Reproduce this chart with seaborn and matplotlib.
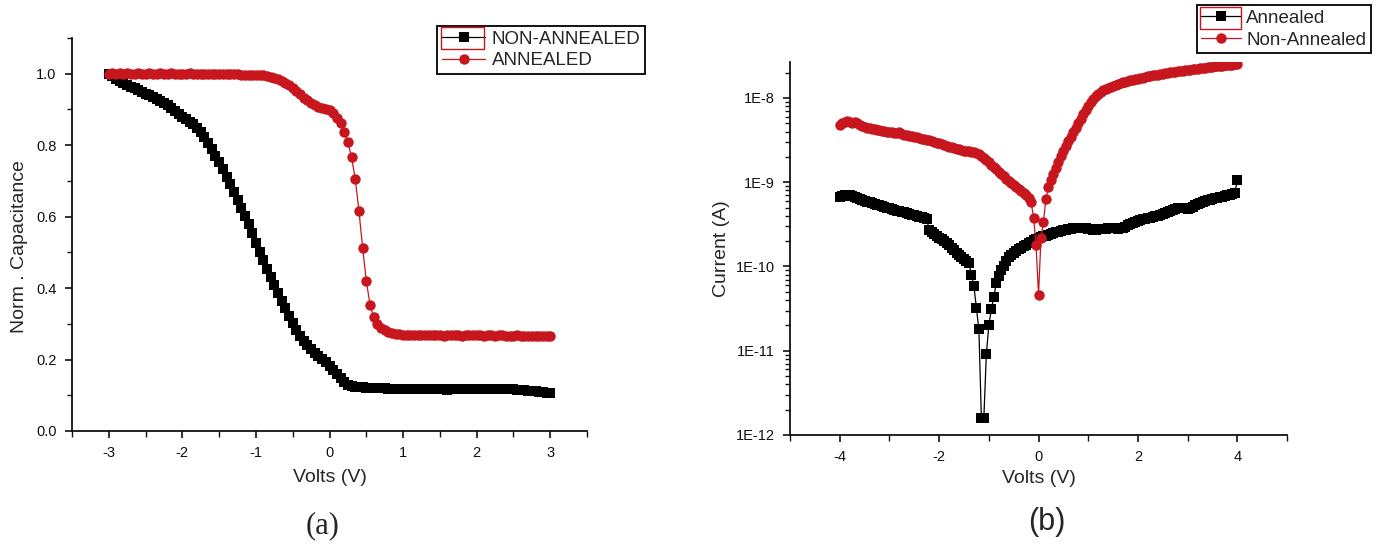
import numpy as np
import matplotlib
matplotlib.use('Agg')
import matplotlib.pyplot as plt
import seaborn as sns
from matplotlib.ticker import MultipleLocator, LogLocator, FuncFormatter, NullFormatter
from matplotlib.patches import Rectangle

# (a) normalised C-V, sweep -3 V .. 3 V in 0.05 V steps
cv_non_annealed = [
    1.0, 0.993, 0.985, 0.979, 0.974, 0.969, 0.964, 0.959, 0.954, 0.949,
    0.944, 0.939, 0.934, 0.929, 0.924, 0.918, 0.912, 0.905, 0.896, 0.888,
    0.880, 0.873, 0.866, 0.858, 0.848, 0.836, 0.822, 0.806, 0.789, 0.771,
    0.752, 0.732, 0.712, 0.691, 0.669, 0.646, 0.624, 0.601, 0.578, 0.553,
    0.527, 0.502, 0.478, 0.454, 0.431, 0.408, 0.386, 0.364, 0.343, 0.323,
    0.303, 0.284, 0.266, 0.252, 0.240, 0.229, 0.219, 0.210, 0.201, 0.192,
    0.183, 0.172, 0.160, 0.148, 0.137, 0.130, 0.126, 0.124, 0.123, 0.122,
    0.121, 0.120, 0.120, 0.119, 0.119, 0.119, 0.118, 0.118, 0.118, 0.118,
    0.118, 0.118, 0.117, 0.118, 0.118, 0.118, 0.117, 0.118, 0.118, 0.118,
    0.118, 0.117, 0.116, 0.118, 0.118, 0.118, 0.118, 0.117, 0.118, 0.118,
    0.118, 0.118, 0.118, 0.118, 0.117, 0.118, 0.118, 0.118, 0.118, 0.117,
    0.117, 0.116, 0.115, 0.114, 0.113, 0.112, 0.111, 0.110, 0.108, 0.107,
    0.106]
cv_annealed = [
    1.0, 1.001, 1.0, 1.002, 1.0, 1.001, 1.0, 1.0, 1.001, 1.0,
    1.0, 1.001, 1.0, 1.0, 1.002, 1.0, 1.0, 1.001, 1.0, 1.0,
    1.0, 1.0, 1.001, 0.999, 1.0, 1.0, 1.0, 0.999, 1.0, 0.999,
    0.999, 0.998, 0.999, 0.998, 0.998, 0.998, 0.997, 0.997, 0.997, 0.996,
    0.996, 0.995, 0.995, 0.994, 0.992, 0.989, 0.985, 0.980, 0.974, 0.967,
    0.959, 0.951, 0.942, 0.933, 0.925, 0.918, 0.913, 0.908, 0.903, 0.900,
    0.897, 0.889, 0.876, 0.861, 0.836, 0.808, 0.766, 0.705, 0.616, 0.513,
    0.420, 0.354, 0.318, 0.300, 0.289, 0.282, 0.277, 0.274, 0.272, 0.271,
    0.270, 0.269, 0.269, 0.268, 0.269, 0.268, 0.268, 0.269, 0.268, 0.268,
    0.268, 0.267, 0.268, 0.268, 0.269, 0.268, 0.267, 0.268, 0.268, 0.268,
    0.268, 0.268, 0.267, 0.268, 0.268, 0.267, 0.268, 0.268, 0.267, 0.267,
    0.267, 0.268, 0.267, 0.267, 0.266, 0.267, 0.267, 0.266, 0.267, 0.266,
    0.266]
v_cv = np.linspace(-3, 3, len(cv_annealed))

# (b) I-V, sweep -4 V .. 4 V in 0.05 V steps
iv_annealed = [
    6.6e-10, 6.9e-10, 7.1e-10, 7.1e-10, 7.0e-10, 6.8e-10, 6.6e-10, 6.5e-10, 6.3e-10, 6.2e-10,
    6.0e-10, 5.9e-10, 5.8e-10, 5.6e-10, 5.5e-10, 5.4e-10, 5.3e-10, 5.2e-10, 5.1e-10, 5.0e-10,
    4.9e-10, 4.8e-10, 4.7e-10, 4.6e-10, 4.5e-10, 4.45e-10, 4.4e-10, 4.3e-10, 4.2e-10, 4.1e-10,
    4.05e-10, 4.0e-10, 3.9e-10, 3.85e-10, 3.8e-10, 3.7e-10, 2.7e-10, 2.55e-10, 2.45e-10, 2.3e-10,
    2.2e-10, 2.1e-10, 2.0e-10, 1.9e-10, 1.8e-10, 1.65e-10, 1.55e-10, 1.45e-10, 1.38e-10, 1.3e-10,
    1.22e-10, 1.15e-10, 1.1e-10, 8.0e-11, 5.9e-11, 3.2e-11, 1.8e-11, 1.6e-12, 1.6e-12, 9.1e-12,
    2.0e-11, 3.1e-11, 4.3e-11, 6.4e-11, 7.8e-11, 9.0e-11, 1.02e-10, 1.15e-10, 1.28e-10, 1.38e-10,
    1.46e-10, 1.53e-10, 1.6e-10, 1.67e-10, 1.74e-10, 1.82e-10, 1.9e-10, 1.97e-10, 2.04e-10, 2.1e-10,
    2.16e-10, 2.22e-10, 2.28e-10, 2.33e-10, 2.38e-10, 2.45e-10, 2.5e-10, 2.55e-10, 2.6e-10, 2.66e-10,
    2.7e-10, 2.74e-10, 2.77e-10, 2.8e-10, 2.83e-10, 2.86e-10, 2.88e-10, 2.9e-10, 2.9e-10, 2.88e-10,
    2.8e-10, 2.75e-10, 2.72e-10, 2.72e-10, 2.75e-10, 2.78e-10, 2.8e-10, 2.82e-10, 2.83e-10, 2.84e-10,
    2.85e-10, 2.83e-10, 2.82e-10, 2.83e-10, 2.88e-10, 2.98e-10, 3.1e-10, 3.2e-10, 3.3e-10, 3.4e-10,
    3.5e-10, 3.58e-10, 3.63e-10, 3.68e-10, 3.73e-10, 3.8e-10, 3.86e-10, 3.92e-10, 3.98e-10, 4.05e-10,
    4.15e-10, 4.28e-10, 4.38e-10, 4.5e-10, 4.62e-10, 4.75e-10, 4.88e-10, 4.95e-10, 4.95e-10, 4.9e-10,
    4.85e-10, 4.95e-10, 5.1e-10, 5.3e-10, 5.5e-10, 5.65e-10, 5.8e-10, 5.95e-10, 6.1e-10, 6.2e-10,
    6.35e-10, 6.45e-10, 6.55e-10, 6.65e-10, 6.75e-10, 6.9e-10, 7.0e-10, 7.15e-10, 7.3e-10, 7.5e-10,
    1.05e-9]
iv_non_annealed = [
    4.8e-9, 5.0e-9, 5.2e-9, 5.3e-9, 5.2e-9, 5.1e-9, 5.2e-9, 5.0e-9, 4.8e-9, 4.6e-9,
    4.5e-9, 4.4e-9, 4.4e-9, 4.3e-9, 4.25e-9, 4.2e-9, 4.15e-9, 4.1e-9, 4.05e-9, 4.0e-9,
    3.95e-9, 3.9e-9, 3.85e-9, 3.8e-9, 3.9e-9, 3.75e-9, 3.65e-9, 3.6e-9, 3.55e-9, 3.5e-9,
    3.45e-9, 3.4e-9, 3.35e-9, 3.3e-9, 3.25e-9, 3.2e-9, 3.15e-9, 3.1e-9, 3.0e-9, 2.95e-9,
    2.9e-9, 2.85e-9, 2.8e-9, 2.7e-9, 2.65e-9, 2.6e-9, 2.55e-9, 2.5e-9, 2.45e-9, 2.4e-9,
    2.38e-9, 2.35e-9, 2.33e-9, 2.3e-9, 2.28e-9, 2.22e-9, 2.15e-9, 2.05e-9, 1.95e-9, 1.82e-9,
    1.72e-9, 1.62e-9, 1.52e-9, 1.42e-9, 1.33e-9, 1.25e-9, 1.17e-9, 1.1e-9, 1.03e-9, 9.7e-10,
    9.2e-10, 8.7e-10, 8.2e-10, 7.8e-10, 7.4e-10, 7.0e-10, 6.5e-10, 5.9e-10, 3.8e-10, 1.8e-10,
    4.6e-11, 2.2e-10, 3.4e-10, 6.4e-10, 8.8e-10, 1.05e-9, 1.25e-9, 1.48e-9, 1.75e-9, 2.05e-9,
    2.35e-9, 2.7e-9, 3.05e-9, 3.45e-9, 3.9e-9, 4.4e-9, 5.0e-9, 5.7e-9, 6.4e-9, 7.2e-9,
    8.0e-9, 8.9e-9, 9.7e-9, 1.05e-8, 1.12e-8, 1.18e-8, 1.23e-8, 1.28e-8, 1.32e-8, 1.36e-8,
    1.4e-8, 1.44e-8, 1.47e-8, 1.5e-8, 1.53e-8, 1.56e-8, 1.59e-8, 1.62e-8, 1.64e-8, 1.66e-8,
    1.68e-8, 1.71e-8, 1.74e-8, 1.77e-8, 1.8e-8, 1.83e-8, 1.86e-8, 1.88e-8, 1.9e-8, 1.93e-8,
    1.95e-8, 1.97e-8, 1.99e-8, 2.01e-8, 2.03e-8, 2.05e-8, 2.07e-8, 2.09e-8, 2.11e-8, 2.13e-8,
    2.15e-8, 2.17e-8, 2.19e-8, 2.21e-8, 2.23e-8, 2.25e-8, 2.27e-8, 2.29e-8, 2.31e-8, 2.33e-8,
    2.35e-8, 2.37e-8, 2.39e-8, 2.41e-8, 2.43e-8, 2.45e-8, 2.46e-8, 2.48e-8, 2.49e-8, 2.5e-8,
    2.52e-8]
v_iv = np.linspace(-4, 4, len(iv_annealed))

RED = '#C8161E'

sns.set_style('ticks')
plt.rcParams['font.family'] = ['Liberation Sans', 'DejaVu Sans']

fig = plt.figure(figsize=(13.79, 5.47), dpi=100)
ax1 = fig.add_axes([0.0522, 0.2121, 0.3735, 0.7185])
ax2 = fig.add_axes([0.5729, 0.2048, 0.3604, 0.6825])


def style_axis(ax):
    for s in ['top', 'right']:
        ax.spines[s].set_visible(False)
    for s in ['left', 'bottom']:
        ax.spines[s].set_linewidth(1.3)
        ax.spines[s].set_color('#111111')
    ax.tick_params(which='major', direction='out', length=5, width=1.2,
                   labelsize=10.5, pad=6, colors='#111111')
    ax.tick_params(which='minor', direction='out', length=3.5, width=1.0,
                   colors='#111111')
    ax.tick_params(axis='x', which='minor', length=4.5)


# ---- (a) ----
sns.lineplot(x=v_cv, y=cv_non_annealed, ax=ax1, color='black', marker='s',
             markersize=7, markeredgewidth=0, linewidth=0.9, sort=False,
             estimator=None, label='NON-ANNEALED')
sns.lineplot(x=v_cv, y=cv_annealed, ax=ax1, color=RED, marker='o',
             markersize=7.5, markeredgewidth=0, linewidth=0.9, sort=False,
             estimator=None, label='ANNEALED')
ax1.set_xlim(-3.5, 3.5)
ax1.set_ylim(0, 1.1)
ax1.xaxis.set_major_locator(MultipleLocator(1))
ax1.xaxis.set_minor_locator(MultipleLocator(0.5))
ax1.yaxis.set_major_locator(MultipleLocator(0.2))
ax1.yaxis.set_minor_locator(MultipleLocator(0.1))
ax1.yaxis.set_major_formatter(FuncFormatter(lambda v, p: f'{v:.1f}'))
ax1.xaxis.set_major_formatter(FuncFormatter(lambda v, p: f'{v:g}'))
style_axis(ax1)
ax1.set_xlabel('Volts (V)', fontsize=14)
ax1.set_ylabel('Norm . Capacitance', fontsize=14)
ax1.xaxis.set_label_coords(0.5, -0.097)
ax1.yaxis.set_label_coords(-0.085, 0.47)
leg1 = ax1.legend(loc='upper left', bbox_to_anchor=(0.3171, 0.953),
                  bbox_transform=fig.transFigure, fontsize=13.5, frameon=True,
                  fancybox=False, edgecolor='black', framealpha=1,
                  handlelength=2.3, handletextpad=0.35, labelspacing=0.25,
                  borderpad=0.25, borderaxespad=0)
leg1.get_frame().set_linewidth(1.3)

# ---- (b) ----
sns.lineplot(x=v_iv, y=iv_annealed, ax=ax2, color='black', marker='s',
             markersize=6.5, markeredgewidth=0, linewidth=0.9, sort=False,
             estimator=None, label='Annealed')
sns.lineplot(x=v_iv, y=iv_non_annealed, ax=ax2, color=RED, marker='o',
             markersize=7.5, markeredgewidth=0, linewidth=0.9, sort=False,
             estimator=None, label='Non-Annealed')
ax2.set_yscale('log')
ax2.set_xlim(-5, 5)
ax2.set_ylim(1e-12, 2.7e-8)
ax2.xaxis.set_major_locator(MultipleLocator(2))
ax2.xaxis.set_minor_locator(MultipleLocator(1))
ax2.xaxis.set_major_formatter(FuncFormatter(lambda v, p: f'{v:g}'))
ax2.yaxis.set_major_locator(LogLocator(base=10, numticks=20))
ax2.yaxis.set_minor_locator(LogLocator(base=10, subs=np.arange(2, 10), numticks=20))
ax2.yaxis.set_major_formatter(FuncFormatter(lambda v, p: f'1E{int(round(np.log10(v)))}'))
ax2.yaxis.set_minor_formatter(NullFormatter())
style_axis(ax2)
ax2.set_xlabel('Volts (V)', fontsize=14)
ax2.set_ylabel('Current (A)', fontsize=14)
ax2.xaxis.set_label_coords(0.5, -0.094)
ax2.yaxis.set_label_coords(-0.12, 0.5)
leg2 = ax2.legend(loc='upper left', bbox_to_anchor=(0.8678, 0.9909),
                  bbox_transform=fig.transFigure, fontsize=13.5, frameon=True,
                  fancybox=False, edgecolor='black', framealpha=1,
                  handlelength=2.1, handletextpad=0.3, labelspacing=0.25,
                  borderpad=0.25, borderaxespad=0)
leg2.get_frame().set_linewidth(1.3)

# red selection boxes around the first legend handle
fig.add_artist(Rectangle((0.3198, 0.9104), 0.0314, 0.0397, transform=fig.transFigure,
                         fill=False, edgecolor=RED, linewidth=1.0))
fig.add_artist(Rectangle((0.8702, 0.9464), 0.0297, 0.0402, transform=fig.transFigure,
                         fill=False, edgecolor=RED, linewidth=1.0))

fig.text(323 / 1379, 1 - 526 / 547, '(a)', family=['Liberation Serif', 'DejaVu Serif'],
         fontsize=22, ha='center', va='center')
fig.text(1047 / 1379, 1 - 522 / 547, '(b)', fontsize=22, ha='center', va='center')

fig.savefig('out.png', dpi=100)
plt.close(fig)
